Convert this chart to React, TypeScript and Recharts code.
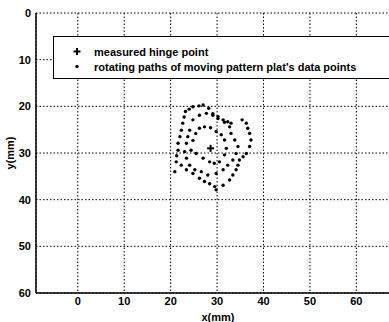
import { ScatterChart, Scatter, XAxis, YAxis, CartesianGrid, Legend } from 'recharts'

document.body.style.margin = '0'

const xTicks = [0, 10, 20, 30, 40, 50, 60]
const yTicks = [0, 10, 20, 30, 40, 50, 60]

// measured hinge point
const hingePoint = [{ x: 28.6, y: 29.0 }]

// rotating paths
const outerRing = [
  { x: 23.2, y: 21.1 }, { x: 24.0, y: 20.6 }, { x: 24.8, y: 20.1 }, { x: 26.1, y: 19.9 },
  { x: 27.0, y: 19.7 }, { x: 28.2, y: 20.4 }, { x: 29.1, y: 21.9 }, { x: 30.2, y: 22.6 },
  { x: 31.3, y: 22.9 }, { x: 32.3, y: 23.3 }, { x: 33.0, y: 23.6 }, { x: 35.4, y: 22.9 },
  { x: 36.3, y: 23.6 }, { x: 36.6, y: 24.7 }, { x: 37.0, y: 25.8 }, { x: 37.3, y: 27.2 },
  { x: 37.0, y: 28.6 }, { x: 36.3, y: 30.1 }, { x: 35.6, y: 30.8 }, { x: 34.8, y: 31.5 },
  { x: 34.5, y: 32.6 }, { x: 34.1, y: 33.6 }, { x: 33.4, y: 34.7 }, { x: 32.7, y: 35.8 },
  { x: 31.3, y: 36.9 }, { x: 29.8, y: 37.9 }, { x: 29.5, y: 37.2 }, { x: 28.4, y: 36.6 },
  { x: 27.3, y: 36.1 }, { x: 26.2, y: 35.4 }, { x: 24.8, y: 34.4 }, { x: 23.4, y: 33.6 },
  { x: 22.3, y: 32.6 }, { x: 21.2, y: 31.9 }, { x: 20.9, y: 34.0 }, { x: 21.3, y: 30.6 },
  { x: 21.6, y: 29.4 }, { x: 21.6, y: 27.9 }, { x: 22.0, y: 26.5 }, { x: 22.3, y: 25.1 },
  { x: 22.6, y: 23.6 }, { x: 22.9, y: 22.3 },
]

const middleRing = [
  { x: 24.8, y: 22.9 }, { x: 26.2, y: 21.9 }, { x: 27.7, y: 21.5 }, { x: 29.1, y: 21.6 },
  { x: 30.2, y: 22.2 }, { x: 31.6, y: 23.4 }, { x: 32.7, y: 24.4 }, { x: 33.0, y: 25.8 },
  { x: 33.8, y: 27.2 }, { x: 34.5, y: 28.6 }, { x: 34.1, y: 30.1 }, { x: 33.4, y: 31.5 },
  { x: 32.3, y: 32.6 }, { x: 31.3, y: 33.6 }, { x: 29.8, y: 34.4 }, { x: 28.0, y: 34.7 },
  { x: 26.6, y: 34.0 }, { x: 25.2, y: 33.6 }, { x: 24.1, y: 32.6 }, { x: 23.4, y: 31.1 },
  { x: 23.0, y: 29.7 }, { x: 23.4, y: 27.9 }, { x: 23.7, y: 26.5 }, { x: 24.1, y: 25.1 },
]

const innerRing = [
  { x: 26.2, y: 24.7 }, { x: 27.3, y: 24.4 }, { x: 28.6, y: 24.6 }, { x: 29.8, y: 25.4 },
  { x: 30.9, y: 26.1 }, { x: 31.6, y: 27.2 }, { x: 32.0, y: 29.0 }, { x: 31.6, y: 30.4 },
  { x: 30.5, y: 31.9 }, { x: 29.4, y: 32.2 }, { x: 28.4, y: 31.9 }, { x: 27.0, y: 31.1 },
  { x: 25.5, y: 30.1 }, { x: 24.4, y: 29.4 }, { x: 24.8, y: 27.3 }, { x: 25.4, y: 25.8 },
]

const legendItems = [
  { kind: 'hinge', label: 'measured hinge point' },
  { kind: 'dot', label: "rotating paths of moving pattern plat's data points" },
]

const font = { fontFamily: '"Liberation Sans", Arial, sans-serif', fontWeight: 700, fontSize: 11, fill: '#000' }

function Dot(props: any) {
  return <circle cx={props.cx} cy={props.cy} r={1.7} fill="#000" />
}

function Plus(props: any) {
  const { cx, cy } = props
  return (
    <g stroke="#000" strokeWidth={2}>
      <line x1={cx - 3.5} y1={cy} x2={cx + 3.5} y2={cy} />
      <line x1={cx} y1={cy - 3.5} x2={cx} y2={cy + 3.5} />
    </g>
  )
}

function LegendBox() {
  return (
    <div
      style={{
        width: 340, height: 43, border: '1.5px solid #000', background: '#fff',
        boxSizing: 'border-box', paddingTop: 7,
      }}
    >
      {legendItems.map((it) => (
        <div key={it.label} style={{ display: 'flex', alignItems: 'center', height: 15 }}>
          <svg width={40} height={15}>
            {it.kind === 'hinge' ? <Plus cx={23} cy={7.5} /> : <circle cx={23} cy={7.5} r={1.7} fill="#000" />}
          </svg>
          <span style={{ fontFamily: font.fontFamily, fontWeight: 700, fontSize: 11, color: '#000', whiteSpace: 'nowrap' }}>
            {it.label}
          </span>
        </div>
      ))}
    </div>
  )
}

export default function App() {
  return (
    <div style={{ width: 389, height: 322, overflow: 'hidden', background: '#fff' }}>
      <ScatterChart width={400} height={322} margin={{ top: 13, right: 0, left: 0, bottom: 0 }}>
        <CartesianGrid stroke="#000" strokeDasharray="1.5 2" strokeWidth={1} />
        <XAxis
          type="number" dataKey="x" domain={[-9, 69.4]} ticks={xTicks} allowDataOverflow
          height={29} tickSize={0} tickMargin={4} tick={font}
          axisLine={{ stroke: '#000', strokeWidth: 1.5 }} tickLine={false}
          label={{ value: 'x(mm)', position: 'insideBottom', offset: 1, style: font }}
        />
        <YAxis
          type="number" dataKey="y" domain={[0, 60]} ticks={yTicks} reversed
          width={36} tickSize={0} tickMargin={5} tick={font}
          axisLine={{ stroke: '#000', strokeWidth: 1.5 }} tickLine={false}
          label={{ value: 'y(mm)', angle: -90, position: 'insideLeft', offset: 10, style: { ...font, textAnchor: 'middle' } }}
        />
        <Legend
          verticalAlign="middle" align="center" layout="horizontal"
          wrapperStyle={{ position: 'absolute', left: 53, top: 36, width: 340 }}
          content={<LegendBox />}
        />
        <Scatter data={outerRing} shape={<Dot />} isAnimationActive={false} />
        <Scatter data={middleRing} shape={<Dot />} isAnimationActive={false} />
        <Scatter data={innerRing} shape={<Dot />} isAnimationActive={false} />
        <Scatter data={hingePoint} shape={<Plus />} isAnimationActive={false} />
      </ScatterChart>
    </div>
  )
}
